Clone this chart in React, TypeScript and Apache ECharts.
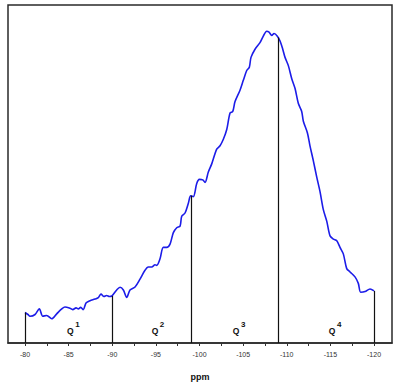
import React, { useEffect, useRef } from "react";
import * as echarts from "echarts";

// Chemical shift (ppm) and intensity (arbitrary units) of the spectrum
const shifts = [
  -80.0, -80.34, -80.57, -81.15, -81.64, -82.03, -82.49, -83.06, -83.63, -84.21,
  -84.58, -85.08, -85.47, -85.85, -86.11, -86.38, -86.68, -86.99, -87.45, -88.02,
  -88.4, -88.71, -89.05, -89.36, -89.66, -89.97, -90.51, -90.89, -91.27, -91.66,
  -92.03, -92.61, -93.18, -93.75, -94.13, -94.52, -94.9, -95.09, -95.47, -95.85,
  -96.24, -96.62, -97.0, -97.39, -97.77, -97.96, -98.34, -98.72, -98.99, -99.29,
  -99.68, -99.98, -100.37, -100.63, -101.01, -101.4, -101.97, -102.35, -102.73, -103.12,
  -103.5, -103.81, -104.07, -104.64, -105.02, -105.41, -105.71, -105.9, -106.36, -106.93,
  -107.31, -107.7, -107.97, -108.28, -108.54, -108.92, -109.23, -109.54, -109.8, -110.18,
  -110.57, -110.95, -111.32, -111.71, -111.9, -112.36, -112.66, -113.04, -113.43, -113.81,
  -114.19, -114.58, -114.96, -115.34, -115.73, -116.1, -116.48, -116.87, -117.25, -117.82,
  -118.2, -118.47, -118.97, -119.54, -120.0,
];
const intensities = [
  31, 29, 27.3, 29, 34.7, 27.3, 28, 24.7, 29.7, 34.7,
  36.7, 35.7, 34, 35.7, 34.7, 36.3, 34, 40.7, 43, 44.7,
  46.3, 49.7, 47.3, 48.3, 47.3, 48, 54, 56.7, 54, 46.3,
  54, 57, 65, 74, 77.3, 77.3, 79.7, 79, 85.7, 97.3,
  97.3, 100.7, 112.3, 117.3, 119, 129, 132.3, 142.3, 149.7, 149,
  162.3, 166.5, 166, 163.5, 174, 182.3, 197.3, 200.7, 207.3, 217.3,
  234, 235.7, 245.7, 257.3, 267.3, 277.3, 280.7, 290.7, 299, 305.7,
  312.3, 317.3, 316.3, 313, 315, 312.3, 307.3, 299, 290.7, 282.3,
  269, 259, 244, 235.7, 225.7, 214, 200.7, 185.7, 169, 154,
  135.7, 124, 109, 105.7, 104, 97.3, 90.7, 75.7, 72.3, 67.3,
  60.7, 51.7, 52.3, 55, 53,
];

// Region boundaries (vertical drop lines)
const boundaryShifts = [-80, -90, -99, -109, -120];
const boundaryHeights = [31, 48, 150, 311, 53];

// Q^n region labels
const qSuperscripts = ["1", "2", "3", "4"];
const qShifts = [-85.2, -94.9, -104.2, -115.2];
const qLabelLevel = 12;

// Axis ticks
const tickLabelValues = [-80, -85, -90, -95, -100, -105, -110, -115, -120];
const tickValues = [
  -80, -82.5, -85, -87.5, -90, -92.5, -95, -97.5, -100, -102.5, -105, -107.5,
  -110, -112.5, -115, -117.5, -120,
];

const labelFont = "Liberation Sans, Arial, sans-serif";

export default function App() {
  const ref = useRef<HTMLDivElement>(null);

  useEffect(() => {
    if (!ref.current) return;
    const chart = echarts.init(ref.current, undefined, { renderer: "svg" });

    const lineData = shifts.map((s, i) => [s, intensities[i]]);
    const dropLines = boundaryShifts.map((s, i) => [
      { coord: [s, 0] },
      { coord: [s, boundaryHeights[i]] },
    ]);
    const qPoints: any[] = [];
    qShifts.forEach((s, i) => {
      qPoints.push({
        coord: [s, qLabelLevel],
        label: { formatter: "Q", fontSize: 8.5, offset: [0, 0] },
      });
      qPoints.push({
        coord: [s, qLabelLevel],
        label: { formatter: qSuperscripts[i], fontSize: 8, offset: [7, -7] },
      });
    });

    chart.setOption({
      animation: false,
      backgroundColor: "#ffffff",
      grid: {
        left: 8,
        right: 15,
        top: 5,
        bottom: 37,
        show: true,
        borderColor: "#2a2a2a",
        borderWidth: 1.5,
        backgroundColor: "transparent",
      },
      xAxis: {
        type: "value",
        min: -122.06,
        max: -78.05,
        inverse: true,
        name: "ppm",
        nameLocation: "middle",
        nameGap: 29,
        nameTextStyle: {
          fontFamily: labelFont,
          fontWeight: "bold",
          fontSize: 9,
          color: "#111",
        },
        axisLine: { show: true, onZero: false, lineStyle: { color: "#2a2a2a", width: 1.5 } },
        axisTick: {
          show: true,
          inside: false,
          length: 3,
          customValues: tickValues,
          lineStyle: { color: "#333", width: 1 },
        },
        axisLabel: {
          show: true,
          margin: 8,
          customValues: tickLabelValues,
          fontFamily: labelFont,
          fontSize: 7,
          color: "#333",
        },
        splitLine: { show: false },
      },
      yAxis: {
        type: "value",
        min: 0,
        max: 344,
        show: false,
        splitLine: { show: false },
      },
      series: [
        {
          type: "line",
          data: lineData,
          showSymbol: false,
          smooth: 0.3,
          lineStyle: { color: "#1c1ce8", width: 1.6 },
          z: 3,
          markLine: {
            silent: true,
            symbol: ["none", "none"],
            label: { show: false },
            lineStyle: { color: "#111", width: 1.2, type: "solid" },
            data: dropLines,
          },
          markPoint: {
            silent: true,
            symbol: "circle",
            symbolSize: 0,
            label: {
              show: true,
              position: "inside",
              fontFamily: labelFont,
              fontWeight: "bold",
              color: "#111",
            },
            data: qPoints,
          },
        },
      ],
    });

    return () => chart.dispose();
  }, []);

  return (
    <div
      ref={ref}
      style={{ position: "fixed", left: 0, top: 0, width: 407, height: 386, background: "#fff" }}
    />
  );
}
